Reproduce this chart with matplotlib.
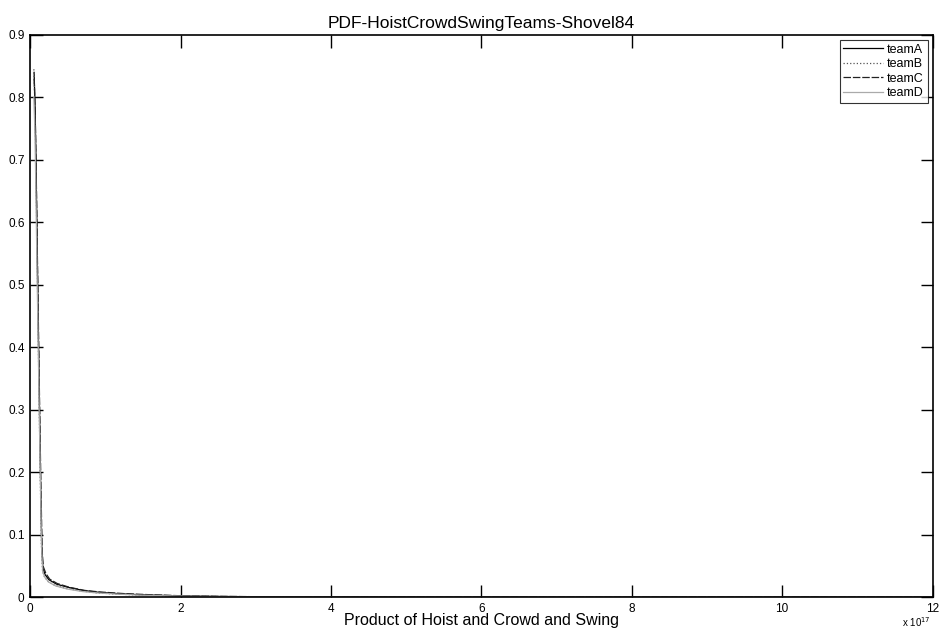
import matplotlib.pyplot as plt
from matplotlib.ticker import ScalarFormatter, MultipleLocator
import numpy as np

plt.rcParams['font.family'] = ['Liberation Sans', 'DejaVu Sans']

# PDF estimates per team (x in units of 1e17)
xA = [0.053, 0.067, 0.08, 0.095, 0.11, 0.125, 0.14, 0.155, 0.17, 0.2, 0.25, 0.35,
      0.5, 0.7, 0.9, 1.2, 1.5, 2.0, 2.5, 3.0, 4.0, 5.0, 6.0, 8.0, 10.0, 12.0]
yA = [0.84, 0.78, 0.68, 0.55, 0.42, 0.30, 0.18, 0.08, 0.047, 0.036, 0.028, 0.021,
      0.016, 0.011, 0.008, 0.0055, 0.0038, 0.0022, 0.0013, 0.0008, 0.0004, 0.0002,
      0.0001, 0.00005, 0.00002, 0.00001]

xB = [0.05, 0.063, 0.076, 0.09, 0.105, 0.12, 0.135, 0.15, 0.165, 0.19, 0.24, 0.33,
      0.48, 0.68, 0.88, 1.15, 1.5, 2.0, 2.5, 3.0, 4.0, 5.0, 6.0, 8.0, 10.0, 12.0]
yB = [0.845, 0.79, 0.70, 0.57, 0.44, 0.31, 0.19, 0.085, 0.043, 0.033, 0.025, 0.019,
      0.014, 0.010, 0.007, 0.005, 0.0033, 0.0019, 0.0011, 0.0007, 0.0003, 0.00015,
      0.00008, 0.00004, 0.00002, 0.00001]

xC = [0.055, 0.07, 0.085, 0.1, 0.115, 0.13, 0.145, 0.16, 0.175, 0.21, 0.26, 0.36,
      0.52, 0.72, 0.92, 1.25, 1.6, 2.0, 2.5, 3.0, 4.0, 5.0, 6.0, 8.0, 10.0, 12.0]
yC = [0.83, 0.76, 0.65, 0.52, 0.40, 0.28, 0.17, 0.075, 0.049, 0.038, 0.029, 0.022,
      0.016, 0.011, 0.0085, 0.0058, 0.004, 0.0024, 0.0014, 0.0009, 0.0004, 0.0002,
      0.0001, 0.00005, 0.00002, 0.00001]

xD = [0.05, 0.065, 0.078, 0.092, 0.108, 0.122, 0.138, 0.152, 0.168, 0.2, 0.25, 0.34,
      0.5, 0.7, 0.9, 1.2, 1.5, 2.0, 2.5, 3.0, 4.0, 5.0, 6.0, 8.0, 10.0, 12.0]
yD = [0.80, 0.74, 0.64, 0.52, 0.40, 0.29, 0.18, 0.08, 0.04, 0.031, 0.024, 0.018,
      0.013, 0.009, 0.0068, 0.0047, 0.0032, 0.0018, 0.001, 0.0006, 0.0003, 0.00015,
      0.00008, 0.00004, 0.00002, 0.00001]

teams = ['teamA', 'teamB', 'teamC', 'teamD']
scale = 1e17

fig = plt.figure(figsize=(9.41, 6.34), dpi=100)
ax = fig.add_axes([0.032, 0.058, 0.959, 0.887])

ax.plot(np.array(xA) * scale, yA, color='black', lw=0.9, label=teams[0])
ax.plot(np.array(xB) * scale, yB, color='#555555', lw=0.9, ls=':', label=teams[1])
ax.plot(np.array(xC) * scale, yC, color='#222222', lw=0.9, ls='--', dashes=(6, 1.5), label=teams[2])
ax.plot(np.array(xD) * scale, yD, color='#aaaaaa', lw=0.9, label=teams[3])

ax.set_xlim(0, 12 * scale)
ax.set_ylim(0, 0.9)
ax.xaxis.set_major_locator(MultipleLocator(2 * scale))
ax.yaxis.set_major_locator(MultipleLocator(0.1))
fmt = ScalarFormatter()
fmt.set_powerlimits((17, 17))
ax.xaxis.set_major_formatter(fmt)
ax.xaxis.get_offset_text().set_visible(False)
ax.yaxis.set_major_formatter(plt.FuncFormatter(lambda v, p: '0' if v == 0 else f'{v:.1f}'))

ax.tick_params(direction='in', length=9, width=1, top=True, right=True,
               labelsize=8.5, pad=4)
for s in ax.spines.values():
    s.set_linewidth(1.2)

ax.set_title('PDF-HoistCrowdSwingTeams-Shovel84', fontsize=12.5, pad=5)
ax.set_xlabel('Product of Hoist and Crowd and Swing', fontsize=11.5, labelpad=-1)
fig.text(0.989, 0.019, r'x 10$^{17}$', fontsize=7, ha='right', va='center')

leg = ax.legend(loc='upper right', fontsize=9, frameon=True, fancybox=False,
                edgecolor='black', handlelength=3.2, handletextpad=0.3,
                borderpad=0.3, labelspacing=0.2, borderaxespad=0.4)
leg.get_frame().set_linewidth(0.8)

fig.savefig('out.png', dpi=100)
